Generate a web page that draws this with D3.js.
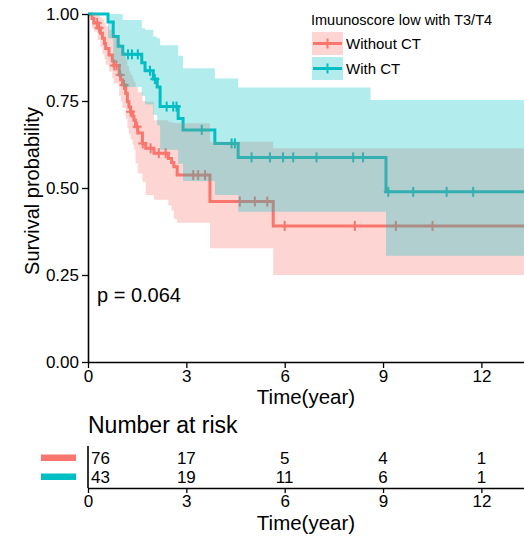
<!DOCTYPE html>
<html><head><meta charset="utf-8">
<script src="https://cdn.jsdelivr.net/npm/d3@7/dist/d3.min.js"></script>
<style>
html,body{margin:0;padding:0;background:#fff;}
text{font-family:"Liberation Sans",Arimo,Arial,sans-serif;fill:#000;}
</style></head>
<body>
<svg id="chart" width="524" height="541"></svg>
<script>
// ---- data ----
const groups = ["Without CT", "With CT"];
const legendTitle = "Imuunoscore low with T3/T4";
const pValueText = "p = 0.064";

const redTimes = [0, 0.12, 0.18, 0.30, 0.38, 0.44, 0.50, 0.54, 0.64, 0.74, 0.79, 0.95, 1.00, 1.05, 1.15, 1.20, 1.25, 1.30, 1.36, 1.40, 1.45, 1.52, 1.66, 1.76, 2.01, 2.45, 2.55, 2.62, 2.72, 3.72, 5.65];
const redSurv  = [1, 0.987, 0.974, 0.960, 0.945, 0.930, 0.915, 0.901, 0.882, 0.865, 0.852, 0.825, 0.811, 0.796, 0.772, 0.748, 0.733, 0.719, 0.707, 0.695, 0.676, 0.658, 0.628, 0.614, 0.600, 0.585, 0.573, 0.561, 0.537, 0.461, 0.391];
const redUpper = [1, 1, 1, 0.995, 0.99, 0.985, 0.975, 0.965, 0.955, 0.945, 0.935, 0.915, 0.905, 0.89, 0.87, 0.85, 0.835, 0.825, 0.815, 0.805, 0.79, 0.775, 0.75, 0.748, 0.695, 0.69, 0.688, 0.687, 0.686, 0.633, 0.614];
const redLower = [1, 0.96, 0.95, 0.925, 0.905, 0.885, 0.87, 0.855, 0.835, 0.815, 0.80, 0.765, 0.75, 0.73, 0.70, 0.672, 0.655, 0.64, 0.625, 0.61, 0.571, 0.542, 0.518, 0.48, 0.466, 0.45, 0.435, 0.411, 0.40, 0.327, 0.25];
const redCensor = [0.28, 0.34, 0.80, 0.87, 0.98, 1.10, 1.30, 1.50, 1.67, 1.91, 2.16, 2.37, 3.21, 3.36, 3.57, 4.63, 5.09, 5.47, 6.00, 8.14, 9.39, 10.51];

const tealTimes = [0, 0.61, 0.77, 0.92, 1.06, 1.64, 1.74, 1.99, 2.11, 2.20, 2.75, 2.90, 3.87, 4.58, 9.09];
const tealSurv  = [1, 0.977, 0.935, 0.907, 0.884, 0.860, 0.837, 0.813, 0.790, 0.734, 0.700, 0.667, 0.628, 0.588, 0.489];
const tealCensor = [1.22, 1.34, 1.52, 1.89, 2.04, 2.40, 2.60, 2.70, 3.47, 4.38, 4.48, 4.99, 5.55, 5.95, 6.26, 6.97, 8.09, 8.39, 9.16, 9.92, 10.94, 11.75];
const tealBandTimes = [0, 0.61, 0.77, 0.92, 1.06, 1.64, 1.74, 1.99, 2.11, 2.20, 2.75, 2.90, 3.87, 4.58, 8.62, 9.09];
const tealUpper = [1, 1, 1, 1, 0.983, 0.959, 0.955, 0.935, 0.93, 0.91, 0.88, 0.844, 0.815, 0.789, 0.753, 0.753];
const tealLower = [1, 0.93, 0.86, 0.82, 0.79, 0.765, 0.74, 0.71, 0.68, 0.61, 0.57, 0.52, 0.48, 0.432, 0.432, 0.305];

const xMax = 13.3;
const xTicks = [0, 3, 6, 9, 12];
const yTicks = [0, 0.25, 0.5, 0.75, 1];
const riskTimes = [0, 3, 6, 9, 12];
const riskRed  = [76, 17, 5, 4, 1];
const riskTeal = [43, 19, 11, 6, 1];

const colors = ["#F8766D", "#00BFC4"];

// ---- drawing ----
const svg = d3.select("#chart");
const x = d3.scaleLinear().domain([0, xMax]).range([88, 524]);
const y = d3.scaleLinear().domain([0, 1]).range([362, 14]);

function stepVal(times, vals, t) {
  const i = d3.bisectRight(times, t) - 1;
  return vals[Math.max(0, i)];
}
function pts(times, vals) {
  const p = times.map((t, i) => [t, vals[i]]);
  p.push([xMax, vals[vals.length - 1]]);
  return p;
}
function bandPts(times, lo, hi) {
  const p = times.map((t, i) => ({t, lo: lo[i], hi: hi[i]}));
  p.push({t: xMax, lo: lo[lo.length - 1], hi: hi[hi.length - 1]});
  return p;
}
const line = d3.line().x(d => x(d[0])).y(d => y(d[1])).curve(d3.curveStepAfter);
const area = d3.area().x(d => x(d.t)).y0(d => y(d.lo)).y1(d => y(d.hi)).curve(d3.curveStepAfter);

const series = [
  {times: redTimes, surv: redSurv, censor: redCensor, bt: redTimes, lo: redLower, hi: redUpper, c: colors[0]},
  {times: tealTimes, surv: tealSurv, censor: tealCensor, bt: tealBandTimes, lo: tealLower, hi: tealUpper, c: colors[1]}
];

const plot = svg.append("g");
series.forEach(s => {
  plot.append("path").attr("d", line(pts(s.times, s.surv)))
    .attr("fill", "none").attr("stroke", s.c).attr("stroke-width", 3);
  const g = plot.append("g");
  s.censor.forEach(t => {
    const cx = x(t), cy = y(stepVal(s.times, s.surv, t));
    g.append("line").attr("x1", cx).attr("x2", cx).attr("y1", cy - 5).attr("y2", cy + 5)
      .attr("stroke", s.c).attr("stroke-width", 2);
    g.append("line").attr("x1", cx - 4.5).attr("x2", cx + 4.5).attr("y1", cy).attr("y2", cy)
      .attr("stroke", s.c).attr("stroke-width", 2);
  });
});
series.forEach(s => {
  plot.append("path").attr("d", area(bandPts(s.bt, s.lo, s.hi)))
    .attr("fill", s.c).attr("fill-opacity", 0.3).attr("stroke", "none");
});

// axes
const yAxis = svg.append("g").attr("transform", "translate(88,0)")
  .call(d3.axisLeft(y).tickValues(yTicks).tickFormat(d3.format(".2f")).tickSize(6).tickSizeOuter(0).tickPadding(3));
const xAxis = svg.append("g").attr("transform", "translate(0,362)")
  .call(d3.axisBottom(x).tickValues(xTicks).tickSize(6).tickSizeOuter(0).tickPadding(2));
[yAxis, xAxis].forEach(a => {
  a.selectAll("path.domain").attr("stroke", "#000").attr("stroke-width", 1.6);
  a.selectAll(".tick line").attr("stroke", "#000").attr("stroke-width", 1.3);
  a.selectAll(".tick text").attr("font-size", 17).attr("fill", "#000")
    .attr("font-family", "Liberation Sans, Arimo, Arial, sans-serif");
});

svg.append("text").attr("transform", "translate(39,191) rotate(-90)")
  .attr("text-anchor", "middle").attr("font-size", 20).text("Survival probability");
svg.append("text").attr("x", 306).attr("y", 404).attr("text-anchor", "middle")
  .attr("font-size", 20.5).text("Time(year)");
svg.append("text").attr("x", 97).attr("y", 302).attr("font-size", 20).text(pValueText);

// legend
const lg = svg.append("g");
lg.append("text").attr("x", 311).attr("y", 25).attr("font-size", 14.5).text(legendTitle);
groups.forEach((gname, i) => {
  const top = 32 + i * 25;
  lg.append("rect").attr("x", 312).attr("y", top).attr("width", 31).attr("height", 23)
    .attr("fill", colors[i]).attr("fill-opacity", 0.3);
  const cy = top + 11.5;
  lg.append("line").attr("x1", 313).attr("x2", 342).attr("y1", cy).attr("y2", cy)
    .attr("stroke", colors[i]).attr("stroke-width", 3);
  lg.append("line").attr("x1", 327.5).attr("x2", 327.5).attr("y1", cy - 5).attr("y2", cy + 5)
    .attr("stroke", colors[i]).attr("stroke-width", 2);
  lg.append("text").attr("x", 346).attr("y", cy + 5.5).attr("font-size", 15).text(gname);
});

// risk table
svg.append("text").attr("x", 88).attr("y", 433).attr("font-size", 23).text("Number at risk");
const riskRows = [riskRed, riskTeal];
const rowY = [464, 483];
riskRows.forEach((row, r) => {
  svg.append("rect").attr("x", 41).attr("y", rowY[r] - 9.5).attr("width", 35).attr("height", 6.5)
    .attr("fill", colors[r]);
  row.forEach((v, i) => {
    const t = riskTimes[i];
    svg.append("text").attr("x", i === 0 ? 91 : x(t)).attr("y", rowY[r])
      .attr("text-anchor", i === 0 ? "start" : "middle").attr("font-size", 17).text(v);
  });
});
svg.append("line").attr("x1", 88).attr("x2", 88).attr("y1", 446).attr("y2", 488)
  .attr("stroke", "#000").attr("stroke-width", 1.6);
const rAxis = svg.append("g").attr("transform", "translate(0,488)")
  .call(d3.axisBottom(x).tickValues(xTicks).tickSize(5).tickSizeOuter(0).tickPadding(2));
rAxis.selectAll("path.domain").attr("stroke", "#000").attr("stroke-width", 1.6);
rAxis.selectAll(".tick line").attr("stroke", "#000").attr("stroke-width", 1.3);
rAxis.selectAll(".tick text").attr("font-size", 17).attr("fill", "#000")
  .attr("font-family", "Liberation Sans, Arimo, Arial, sans-serif");
svg.append("text").attr("x", 306).attr("y", 530).attr("text-anchor", "middle")
  .attr("font-size", 20.5).text("Time(year)");
</script>
</body></html>
